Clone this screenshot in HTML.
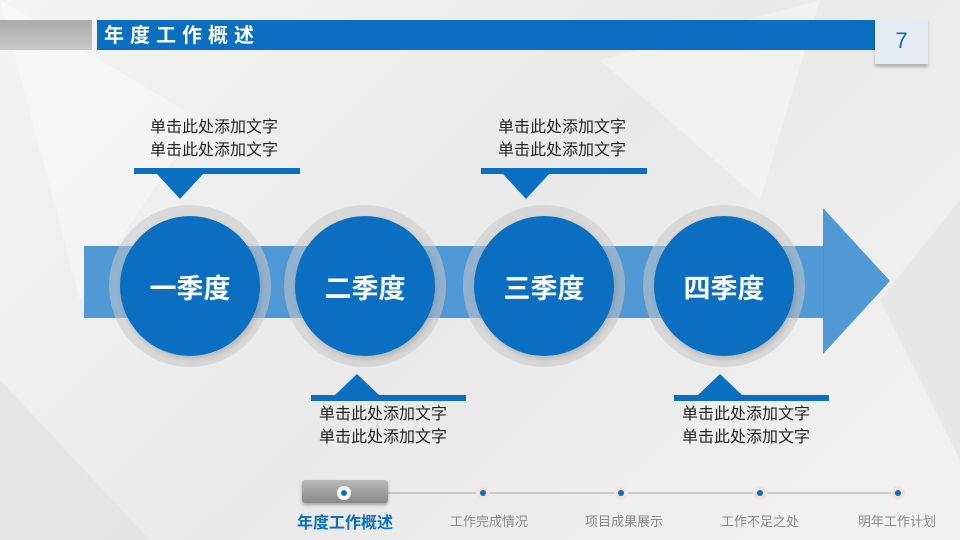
<!DOCTYPE html>
<html><head><meta charset="utf-8"><style>
body{margin:0;width:960px;height:540px;overflow:hidden;background:linear-gradient(135deg,#f4f4f4,#e9e9e9 50%,#f2f2f2);font-family:"Liberation Sans","Noto Sans CJK SC",sans-serif;position:relative}
.a{position:absolute}
.t{position:absolute;font-size:16px;line-height:23px;color:#222;white-space:nowrap}
.c{position:absolute;width:140px;height:140px;border-radius:50%;background:#0a6fc0;color:#fff;font-weight:bold;font-size:27px;display:flex;align-items:center;justify-content:center;box-shadow:0 0 0 11px rgba(200,200,200,.55),2px 3px 6px rgba(0,0,0,.3)}
.n{position:absolute;top:511px;font-size:13px;color:#888}
.d{position:absolute;top:486px;width:14px;height:14px;border-radius:50%;background:#f3e3e0}
.d::after{content:"";position:absolute;left:4px;top:4px;width:6px;height:6px;border-radius:50%;background:#0a6fc0}
</style></head><body>
<svg class="a" style="left:0;top:0" width="960" height="540">
<polygon points="0,0 200,120 80,300" fill="#fff" opacity=".35"/>
<polygon points="600,60 820,0 760,200" fill="#fff" opacity=".35"/>
<polygon points="0,380 150,540 0,540" fill="#ddd" opacity=".4"/>
<polygon points="880,300 960,200 960,460" fill="#ddd" opacity=".4"/>
<rect x="84" y="246" width="740" height="72" fill="#3f8fd2" opacity=".9"/>
<polygon points="823,208 890,281 823,354" fill="#3f8fd2" opacity=".9"/>
<rect x="134" y="168" width="166" height="6" fill="#0a6fc0"/><polygon points="157,174 203,174 180,199" fill="#0a6fc0"/>
<rect x="481" y="168" width="166" height="6" fill="#0a6fc0"/><polygon points="503,174 549,174 526,199" fill="#0a6fc0"/>
<rect x="311" y="395" width="155" height="6" fill="#0a6fc0"/><polygon points="335,395 379,395 357,374" fill="#0a6fc0"/>
<rect x="674" y="395" width="155" height="6" fill="#0a6fc0"/><polygon points="698,395 742,395 720,374" fill="#0a6fc0"/>
<line x1="388" y1="493" x2="898" y2="493" stroke="#aaa" stroke-width="1"/>
</svg>
<div class="a" style="left:0;top:20px;width:92px;height:30px;background:linear-gradient(#aaa,#c8c8c8)"></div>
<div class="a" style="left:97px;top:20px;width:831px;height:30px;background:#0a6fc0"></div>
<div class="a" style="left:104px;top:22px;color:#fff;font-weight:bold;font-size:20px;letter-spacing:6px;line-height:28px">年度工作概述</div>
<div class="a" style="left:875px;top:18px;width:53px;height:46px;background:#e4ebf2;box-shadow:0 3px 3px rgba(0,0,0,.25);color:#0a6fc0;font-size:22px;text-align:center;line-height:46px">7</div>
<div class="t" style="left:150px;top:116px">单击此处添加文字<br>单击此处添加文字</div>
<div class="t" style="left:498px;top:116px">单击此处添加文字<br>单击此处添加文字</div>
<div class="t" style="left:319px;top:403px">单击此处添加文字<br>单击此处添加文字</div>
<div class="t" style="left:682px;top:403px">单击此处添加文字<br>单击此处添加文字</div>
<div class="c" style="left:120px;top:216px">一季度</div>
<div class="c" style="left:295px;top:216px">二季度</div>
<div class="c" style="left:474px;top:216px">三季度</div>
<div class="c" style="left:654px;top:216px">四季度</div>
<div class="a" style="left:302px;top:480px;width:86px;height:23px;border-radius:3px;background:linear-gradient(#bbb,#888);box-shadow:0 2px 3px rgba(0,0,0,.3)"></div>
<div class="d" style="left:337px;background:#fff"></div>
<div class="d" style="left:476px"></div><div class="d" style="left:614px"></div><div class="d" style="left:753px"></div><div class="d" style="left:891px"></div>
<div class="n" style="left:297px;top:509px;font-size:16px;font-weight:bold;color:#0a6fc0">年度工作概述</div>
<div class="n" style="left:450px">工作完成情况</div>
<div class="n" style="left:585px">项目成果展示</div>
<div class="n" style="left:721px">工作不足之处</div>
<div class="n" style="left:858px">明年工作计划</div>
</body></html>
